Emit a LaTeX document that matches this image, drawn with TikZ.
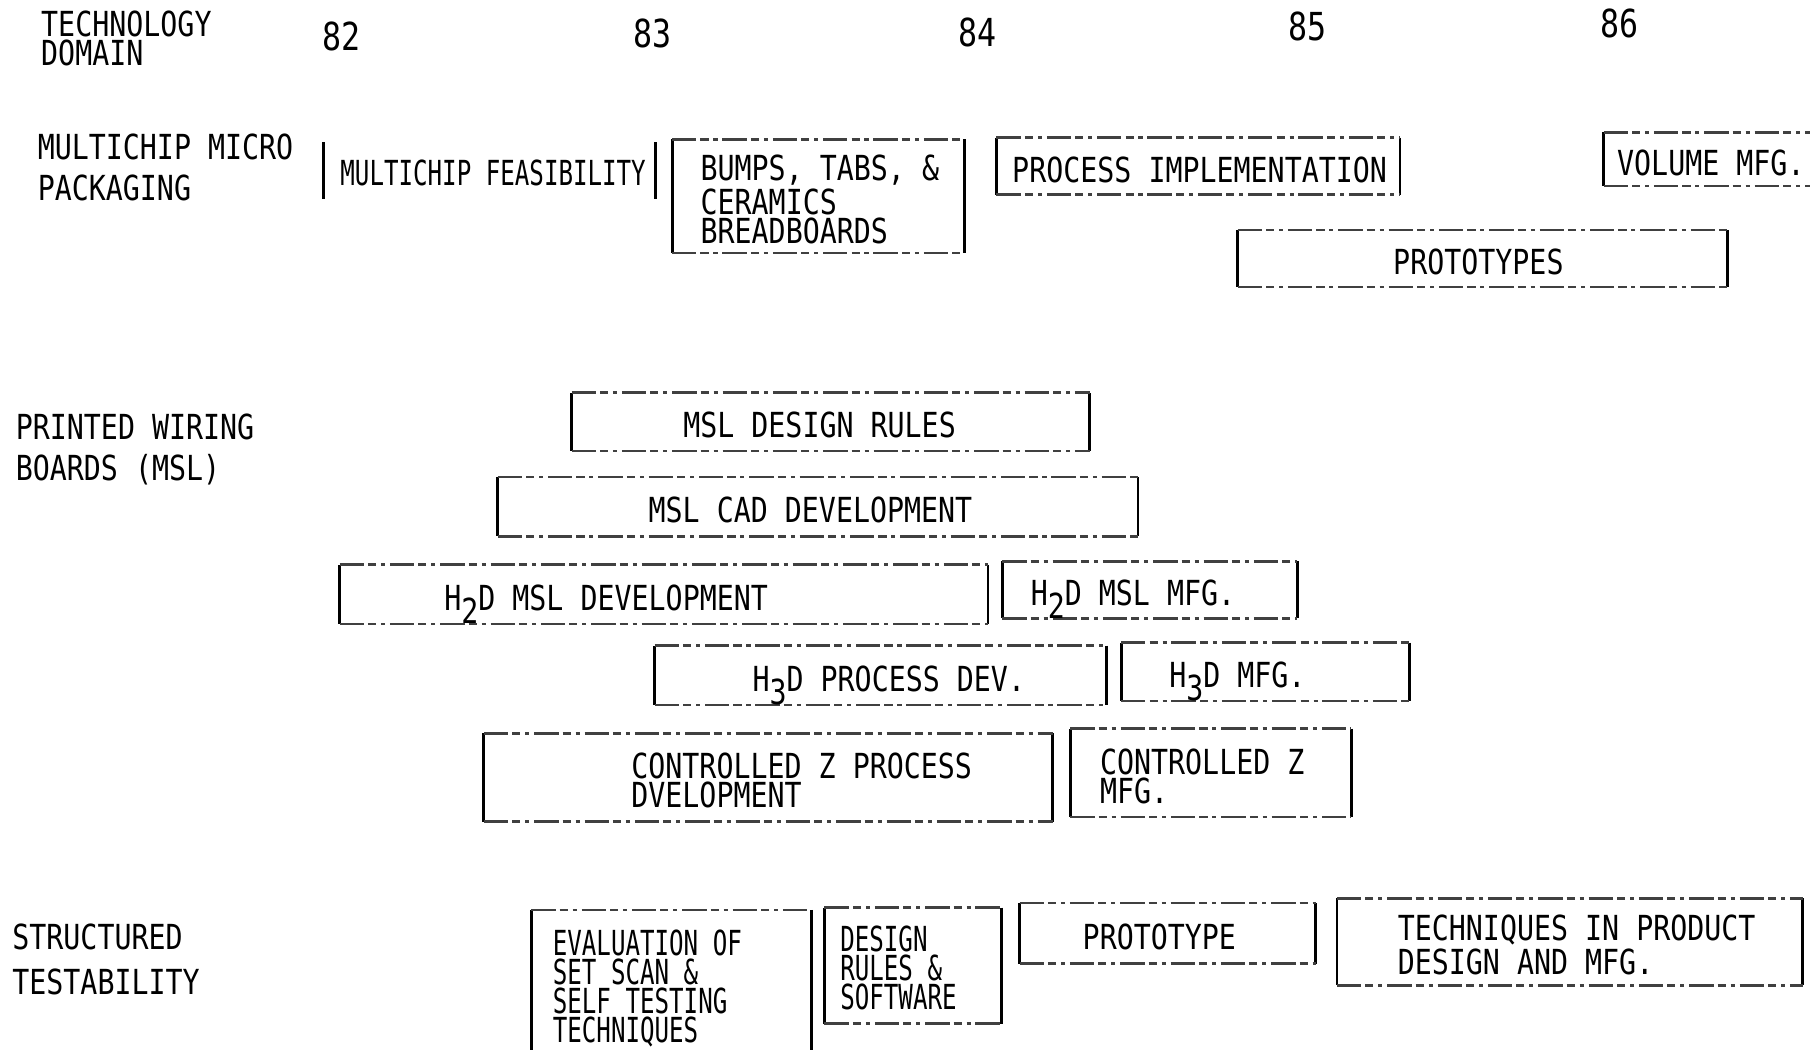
\documentclass[tikz,border=0pt]{standalone}
\usepackage{fontspec}
\usepackage{tikz}
\usetikzlibrary{positioning}
\newfontfamily\plotfont[FakeStretch=0.82]{DejaVu Sans Mono}
\newfontfamily\narrowfont[FakeStretch=0.70]{DejaVu Sans Mono}
\newcommand{\boxfont}{\plotfont\fontsize{8.5pt}{7.1pt}\selectfont}
\newcommand{\thinfont}{\narrowfont\fontsize{8.5pt}{7.1pt}\selectfont}
\newcommand{\rowfont}{\plotfont\fontsize{8.5pt}{10pt}\selectfont}
\newcommand{\lowdig}[1]{\raisebox{-0.7ex}[0pt][0pt]{#1}}

\begin{document}
\begin{tikzpicture}[x=0.01cm, y=-0.01cm,
    side/.style={draw, line width=0.7pt},
    rim/.style={draw, line width=0.65pt, black!75, dash pattern=on 6pt off 1pt on 2pt off 1.2pt on 1pt off 1.2pt},
    lbar/.style={append after command={(\tikzlastnode.north west) edge[side] (\tikzlastnode.south west)}},
    rbar/.style={append after command={(\tikzlastnode.north east) edge[side] (\tikzlastnode.south east)}},
    rims/.style={append after command={(\tikzlastnode.north west) edge[rim] (\tikzlastnode.north east)
        (\tikzlastnode.south west) edge[rim] (\tikzlastnode.south east)}},
    slot/.style 2 args={inner sep=0pt, minimum width=#1, minimum height=#2},
    seg/.style 2 args={slot={#1}{#2}, lbar, rbar, rims},
    txt/.style={font=\boxfont, inner sep=0pt, align=left, yshift=-0.8pt},
    ntxt/.style={font=\thinfont, inner sep=0pt, align=left, yshift=-0.5pt},
    row/.style={font=\rowfont, inner sep=0pt, align=left, anchor=west},
    yearlbl/.style={font=\plotfont\fontsize{9.5pt}{10pt}\selectfont, inner sep=0pt}
]
\useasboundingbox (0,0) rectangle (1568,909);

\node[txt, anchor=west, yshift=0.8pt] (domain) at (35,33.5) {TECHNOLOGY\\DOMAIN};
\foreach \yr/\xx/\yy in {82/296/32, 83/565/29, 84/847/28, 85/1133/23, 86/1403/20}
    \node[yearlbl] (y\yr) at (\xx,\yy) {\yr};

\node[row] (mcmp) at (32,145) {MULTICHIP MICRO\\PACKAGING};
\node[row] (pwb) at (13,389.5) {PRINTED WIRING\\BOARDS (MSL)};
\node[row] (stt) at (10,831) {STRUCTURED\\[1pt]TESTABILITY};

% multichip micro packaging
\node[slot={2.86cm}{0.48cm}, lbar, rbar] (mfeas) at (424,148) {};
\node[ntxt, right=0.14cm of mfeas.west] (mfeast) {MULTICHIP FEASIBILITY};
\node[seg={2.52cm}{0.97cm}] (bumps) at (709,170) {};
\node[txt, right=0.24cm of bumps.west] (bumpst) {BUMPS, TABS, \&\\CERAMICS\\BREADBOARDS};
\node[seg={3.48cm}{0.48cm}] (impl) at (1038,144) {};
\node[txt, right=0.13cm of impl.west] (implt) {PROCESS IMPLEMENTATION};
\node[slot={1.85cm}{0.45cm}, lbar, rims] (volm) at (1482.5,138) {};
\node[txt, right=0.11cm of volm.west] (volmt) {VOLUME MFG.};
\node[seg={4.23cm}{0.48cm}] (protos) at (1284.5,224) {};
\node[txt, right=1.34cm of protos.west] (protost) {PROTOTYPES};

% printed wiring boards
\node[seg={4.47cm}{0.49cm}] (msldr) at (719.5,365.5) {};
\node[txt, right=0.96cm of msldr.west] (msldrt) {MSL DESIGN RULES};
\node[seg={5.53cm}{0.50cm}] (mslcad) at (708.5,439) {};
\node[txt, right=1.30cm of mslcad.west] (mslcadt) {MSL CAD DEVELOPMENT};
\node[seg={5.60cm}{0.50cm}] (h2ddev) at (575,515) {};
\node[txt, right=0.90cm of h2ddev.west] (h2ddevt) {H\lowdig{2}D MSL DEVELOPMENT};
\node[seg={2.54cm}{0.48cm}] (h2dmfg) at (996,511) {};
\node[txt, right=0.24cm of h2dmfg.west] (h2dmfgt) {H\lowdig{2}D MSL MFG.};
\node[seg={3.90cm}{0.50cm}] (h3ddev) at (763,585) {};
\node[txt, right=0.84cm of h3ddev.west] (h3ddevt) {H\lowdig{3}D PROCESS DEV.};
\node[seg={2.48cm}{0.49cm}] (h3dmfg) at (1096,582) {};
\node[txt, right=0.41cm of h3dmfg.west] (h3dmfgt) {H\lowdig{3}D MFG.};
\node[seg={4.91cm}{0.75cm}] (czdev) at (665.5,673.5) {};
\node[txt, right=1.27cm of czdev.west] (czdevt) {CONTROLLED Z PROCESS\\DVELOPMENT};
\node[seg={2.42cm}{0.75cm}] (czmfg) at (1049,669.5) {};
\node[txt, right=0.25cm of czmfg.west] (czmfgt) {CONTROLLED Z\\MFG.};

% structured testability
\node[seg={2.41cm}{1.31cm}] (evalss) at (581.5,854.5) {};
\node[ntxt, right=0.18cm of evalss.west] (evalsst) {EVALUATION OF\\SET SCAN \&\\SELF TESTING\\TECHNIQUES};
\node[seg={1.52cm}{0.99cm}] (dsgnrl) at (791,836.5) {};
\node[ntxt, right=0.13cm of dsgnrl.west] (dsgnrlt) {DESIGN\\RULES \&\\SOFTWARE};
\node[seg={2.55cm}{0.51cm}] (proto) at (1011.5,808.5) {};
\node[txt, right=0.54cm of proto.west] (protot) {PROTOTYPE};
\node[seg={4.02cm}{0.74cm}] (techpd) at (1360,816) {};
\node[txt, right=0.52cm of techpd.west] (techpdt) {TECHNIQUES IN PRODUCT\\DESIGN AND MFG.};
\end{tikzpicture}
\end{document}
